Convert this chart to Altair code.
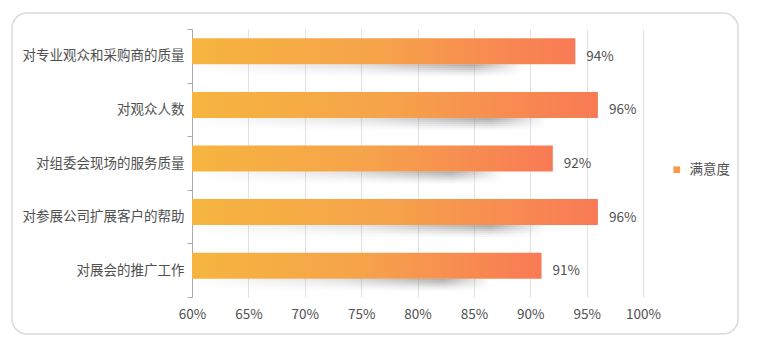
import altair as alt
import pandas as pd

categories = ["对专业观众和采购商的质量", "对观众人数", "对组委会现场的服务质量",
              "对参展公司扩展客户的帮助", "对展会的推广工作"]
values = [94, 96, 92, 96, 91]
series_name = "满意度"
x_ticks = [60, 65, 70, 75, 80, 85, 90, 95, 100]

FONT = "Noto Sans CJK SC"
TXT = "#505050"
FS = 13.5

df = pd.DataFrame({
    "cat": categories,
    "val": [v / 100 for v in values],
    "series": [series_name] * len(categories),
})

y_axis = alt.Axis(labelFontSize=FS, labelColor=TXT, labelFont=FONT,
                  domainColor="#aaaaaa", tickColor="#aaaaaa", tickSize=5,
                  labelPadding=3, tickBand="extent", grid=False)
y_enc = alt.Y("cat:N", sort=categories, title=None,
              scale=alt.Scale(paddingInner=0, paddingOuter=0), axis=y_axis)
x_scale = alt.Scale(domain=[0.6, 1.0], zero=False, nice=False)
x_axis = alt.Axis(values=[t / 100 for t in x_ticks], format=".0%",
                  grid=True, gridColor="#e2e2e2", domain=False, ticks=False,
                  labelPadding=10, labelFontSize=FS, labelColor=TXT,
                  labelFont=FONT, labelFlush=False, labelOverlap=False)


def xq(field):
    return alt.X(f"{field}:Q", scale=x_scale, title=None, axis=x_axis)


base = alt.Chart(df)

bar_grad = alt.Gradient(
    gradient="linear",
    stops=[alt.GradientStop(color="#F6B53F", offset=0),
           alt.GradientStop(color="#F6A24B", offset=0.5),
           alt.GradientStop(color="#F87A55", offset=1)],
    x1=0, x2=1, y1=0, y2=0)


def shadow_grad(a):
    return alt.Gradient(
        gradient="linear",
        stops=[alt.GradientStop(color="rgba(110,110,110,0)", offset=0),
               alt.GradientStop(color=f"rgba(110,110,110,{a*0.35})", offset=0.5),
               alt.GradientStop(color=f"rgba(110,110,110,{a})", offset=0.84),
               alt.GradientStop(color="rgba(110,110,110,0)", offset=1)],
        x1=0, x2=1, y1=0, y2=0)


bars = base.mark_bar(size=26, yOffset=-4.5, fill=bar_grad).encode(
    x=xq("val"),
    x2=alt.datum(0.6),
    y=y_enc,
)

shadow_base = base.transform_calculate(send="datum.val - 0.045")
shadows = []
for off, a in [(9.5, 0.55), (11.5, 0.45), (13.5, 0.34), (15.5, 0.23),
               (17.5, 0.13), (19.5, 0.06)]:
    shadows.append(
        shadow_base.mark_bar(size=2, yOffset=off, fill=shadow_grad(a)).encode(
            x=xq("send"),
            x2=alt.datum(0.6),
            y=y_enc,
        )
    )

labels = base.mark_text(align="left", baseline="middle", dx=11, dy=1,
                        fontSize=FS, font=FONT, color=TXT).encode(
    x=xq("val"),
    y=y_enc,
    text=alt.Text("val:Q", format=".0%"),
)

legend_layer = base.mark_point(filled=True, opacity=0).encode(
    x=xq("val"),
    y=y_enc,
    color=alt.Color("series:N", title=None,
                    scale=alt.Scale(domain=[series_name], range=["#F79A4A"]),
                    legend=alt.Legend(orient="none", legendX=478, legendY=134,
                                      symbolType="square", symbolSize=45,
                                      symbolOpacity=1, symbolStrokeWidth=0,
                                      labelFontSize=FS, labelColor=TXT,
                                      labelFont=FONT, labelOffset=6)),
)

frame = alt.Chart(pd.DataFrame({"f": [0]})).mark_rect(
    fillOpacity=0, stroke="#dadada", strokeWidth=1.5, cornerRadius=15
).encode(
    x=alt.value(-180), x2=alt.value(546), y=alt.value(-16), y2=alt.value(305)
)

chart = alt.layer(bars, *shadows, labels, legend_layer, frame).properties(
    width=451, height=268,
    padding={"left": 184, "top": 21, "right": 107, "bottom": 51},
    autosize=alt.AutoSizeParams(type="none"),
    background="white",
).configure_view(stroke=None)

chart.save("out.html", embed_options={"renderer": "svg", "actions": False})
